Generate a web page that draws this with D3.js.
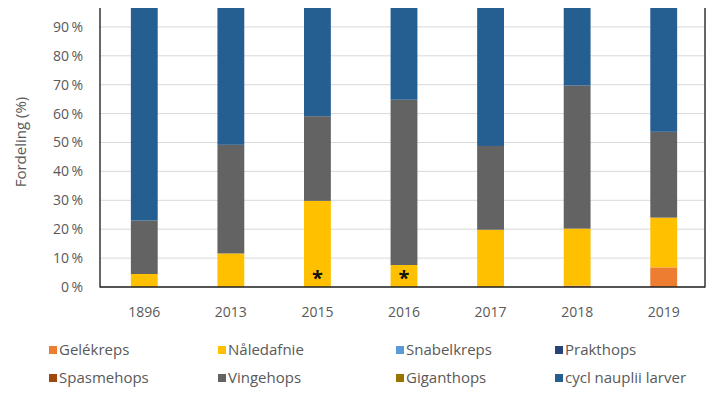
<!DOCTYPE html>
<html>
<head>
<meta charset="utf-8">
<script src="https://cdn.jsdelivr.net/npm/d3@7"></script>
<style>
	body { margin: 0; background: #fff; }
	text { font-family: "Open Sans", sans-serif; fill: #595959; }
</style>
</head>
<body>
<div id="chart"></div>
<script>
// data (share of total, %)
const years = ["1896", "2013", "2015", "2016", "2017", "2018", "2019"];
const species = ["Gelékreps", "Nåledafnie", "Snabelkreps", "Prakthops", "Spasmehops", "Vingehops", "Giganthops", "cycl nauplii larver"];
const colors = ["#ED7D31", "#FFC000", "#5B9BD5", "#264478", "#9E480E", "#636363", "#997300", "#255E91"];

const gelekreps = [0, 0, 0, 0, 0, 0.5, 6.8];
const naledafnie = [4.5, 11.6, 29.8, 7.6, 19.8, 19.7, 17.2];
const snabelkreps = [0, 0, 0, 0, 0, 0, 0];
const prakthops = [0, 0, 0, 0, 0, 0, 0];
const spasmehops = [0, 0, 0, 0, 0, 0, 0];
const vingehops = [18.5, 37.6, 29.3, 57.2, 29.0, 49.5, 29.7];
const giganthops = [0, 0, 0, 0, 0, 0, 0];
const nauplii = [77.0, 50.8, 40.9, 35.2, 51.2, 30.3, 46.3];

const yTicks = [0, 10, 20, 30, 40, 50, 60, 70, 80, 90];
const starred = ["2015", "2016"];

const series = [gelekreps, naledafnie, snabelkreps, prakthops, spasmehops, vingehops, giganthops, nauplii];
const rows = years.map((y, i) => {
	let r = { year: y };
	species.forEach((s, k) => r[s] = series[k][i]);
	return r;
});

const width = 708, height = 399;
const svg = d3.select("#chart").append("svg")
	.attr("width", width)
	.attr("height", height);

let x = d3.scaleBand().domain(years).range([101, 707]).paddingInner(0.69).paddingOuter(0.345);
let y = d3.scaleLinear().domain([0, 100]).range([287, -2]);

svg.append("clipPath").attr("id", "plot")
	.append("rect").attr("x", 0).attr("y", 8).attr("width", width).attr("height", 290);

let plot = svg.append("g").attr("clip-path", "url(#plot)");

// gridlines
plot.append("g")
	.selectAll("line")
	.data(yTicks.concat([100]))
	.join("line")
	.attr("x1", 100).attr("x2", 705)
	.attr("y1", d => y(d)).attr("y2", d => y(d))
	.attr("stroke", "#d9d9d9")
	.attr("stroke-width", 1);

let stacked = d3.stack().keys(species)(rows);

plot.append("g")
	.selectAll("g")
	.data(stacked)
	.join("g")
	.attr("fill", (d, i) => colors[i])
	.selectAll("rect")
	.data(d => d)
	.join("rect")
	.attr("x", d => x(d.data.year))
	.attr("width", x.bandwidth())
	.attr("y", d => y(d[1]))
	.attr("height", d => y(d[0]) - y(d[1]));

// asterisks
svg.append("g")
	.selectAll("text")
	.data(starred)
	.join("text")
	.attr("x", d => x(d) + x.bandwidth() / 2)
	.attr("y", 285)
	.attr("text-anchor", "middle")
	.style("fill", "#111")
	.style("font-size", "20px")
	.style("font-weight", "bold")
	.text("*");

// frame
plot.append("line").attr("x1", 100).attr("x2", 100).attr("y1", 0).attr("y2", 287.5).attr("stroke", "#333").attr("stroke-width", 1.5);
plot.append("line").attr("x1", 705).attr("x2", 705).attr("y1", 0).attr("y2", 287.5).attr("stroke", "#333").attr("stroke-width", 1.5);
svg.append("line").attr("x1", 100).attr("x2", 705).attr("y1", 287).attr("y2", 287).attr("stroke", "#222").attr("stroke-width", 1.5);

// y labels
svg.append("g")
	.selectAll("text")
	.data(yTicks)
	.join("text")
	.attr("x", 83)
	.attr("y", d => y(d))
	.attr("dy", "0.35em")
	.attr("text-anchor", "end")
	.style("font-size", "14px")
	.text(d => d + "\u2009%");

svg.append("text")
	.attr("transform", "translate(21,142) rotate(-90)")
	.attr("text-anchor", "middle")
	.attr("dy", "0.35em")
	.style("font-size", "15px")
	.text("Fordeling (%)");

// x labels
svg.append("g")
	.selectAll("text")
	.data(years)
	.join("text")
	.attr("x", d => x(d) + x.bandwidth() / 2)
	.attr("y", 312)
	.attr("dy", "0.35em")
	.attr("text-anchor", "middle")
	.style("font-size", "14px")
	.text(d => d);

// legend
const legX = [49, 218, 396, 555];
const legY = [350, 378];
let leg = svg.append("g")
	.selectAll("g")
	.data(species)
	.join("g")
	.attr("transform", (d, i) => `translate(${legX[i % 4]},${legY[Math.floor(i / 4)]})`);

leg.append("rect")
	.attr("x", 0).attr("y", -4)
	.attr("width", 8).attr("height", 8)
	.attr("fill", (d, i) => colors[i]);

leg.append("text")
	.attr("x", 10)
	.attr("dy", "0.35em")
	.style("font-size", "15px")
	.text(d => d);
</script>
</body>
</html>
